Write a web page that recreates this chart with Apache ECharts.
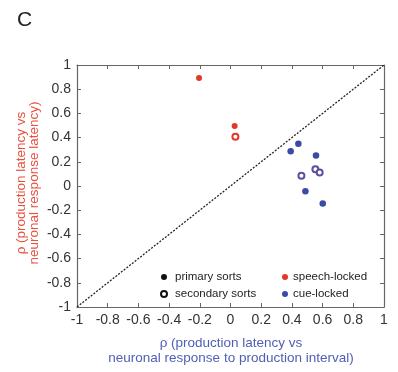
<!DOCTYPE html>
<html>
<head>
<meta charset="utf-8">
<script src="https://cdn.jsdelivr.net/npm/echarts@6/dist/echarts.min.js"></script>
<style>
  html, body { margin: 0; padding: 0; background: #fff; }
  #chart { width: 398px; height: 372px; }
</style>
</head>
<body>
<div id="chart"></div>
<script>
// Spearman correlations per neuron: x = vs response to production interval, y = vs response latency
const speechPrimary = [[-0.205, 0.893], [0.027, 0.495]];
const speechSecondary = [[0.032, 0.406]];
const cuePrimary = [[0.392, 0.288], [0.442, 0.349], [0.557, 0.252], [0.488, -0.043], [0.601, -0.145]];
const cueSecondary = [[0.462, 0.084], [0.553, 0.139], [0.581, 0.112]];
const diagonal = [[-1, -1], [1, 1]];
const axisTicks = { min: -1, max: 1, interval: 0.2 };

const RED = '#e3372b';
const BLUE = '#3a4aa6';
const BLUE_OPEN = '#5a509f';
const AXIS = '#666';
const FONT = 'Liberation Sans, Arial, sans-serif';

const chart = echarts.init(document.getElementById('chart'), null, { renderer: 'canvas' });

function boxAxis(pos, showLabels) {
  return {
    type: 'value',
    position: pos,
    min: axisTicks.min, max: axisTicks.max, interval: axisTicks.interval,
    axisLine: { show: true, onZero: false, lineStyle: { color: AXIS, width: 1.2 } },
    axisTick: { show: true, inside: true, length: 4, lineStyle: { color: AXIS } },
    axisLabel: {
      show: showLabels, color: '#333', fontSize: 14, fontFamily: FONT, margin: 6,
      formatter: v => (Math.abs(v) < 1e-9 ? '0' : String(+v.toFixed(1)))
    },
    splitLine: { show: false }
  };
}

function legendBlock(left, names, icons, textPad) {
  return {
    left: left, top: 266, orient: 'vertical', itemGap: 5,
    itemWidth: 6, itemHeight: 6,
    itemStyle: { borderWidth: 0.8 },
    textStyle: { fontSize: 11.5, color: '#222', fontFamily: FONT, padding: [0, 0, 0, textPad] },
    data: names.map((n, i) => ({ name: n, icon: icons[i] })),
    selectedMode: false
  };
}

const option = {
  animation: false,
  backgroundColor: '#fff',
  grid: { left: 77, right: 14, top: 65, bottom: 65, containLabel: false },
  xAxis: [boxAxis('bottom', true), boxAxis('top', false)],
  yAxis: [boxAxis('left', true), boxAxis('right', false)],
  legend: [
    legendBlock(155, ['primary sorts', 'secondary sorts'], ['circle', 'emptyCircle'], 3),
    legendBlock(277, ['speech-locked', 'cue-locked'], ['circle', 'circle'], 0)
  ],
  graphic: [
    {
      type: 'text', left: 17, top: 10,
      style: { text: 'C', fontSize: 21, fill: '#222', fontFamily: FONT }
    },
    {
      type: 'text', x: 28, y: 183, rotation: Math.PI / 2,
      style: {
        text: 'ρ (production latency vs\nneuronal response latency)',
        fontSize: 13.5, lineHeight: 13, fill: '#e8503f', fontFamily: FONT,
        align: 'center', verticalAlign: 'middle'
      }
    },
    {
      type: 'text', x: 231, y: 351,
      style: {
        text: 'ρ (production latency vs\nneuronal response to production interval)',
        fontSize: 13.5, lineHeight: 14.5, fill: '#4e5fb4', fontFamily: FONT,
        align: 'center', verticalAlign: 'middle'
      }
    }
  ],
  series: [
    {
      type: 'line', data: diagonal, symbol: 'none', silent: true,
      lineStyle: { color: '#222', width: 1.3, type: [2, 1.5] }, z: 1
    },
    {
      name: 'speech-locked primary', type: 'scatter', data: speechPrimary,
      symbol: 'circle', symbolSize: 6, itemStyle: { color: RED, opacity: 1 }
    },
    {
      name: 'speech-locked secondary', type: 'scatter', data: speechSecondary,
      symbol: 'emptyCircle', symbolSize: 6, itemStyle: { color: RED, borderWidth: 1, opacity: 1 }
    },
    {
      name: 'cue-locked primary', type: 'scatter', data: cuePrimary,
      symbol: 'circle', symbolSize: 6.5, itemStyle: { color: BLUE, opacity: 1 }
    },
    {
      name: 'cue-locked secondary', type: 'scatter', data: cueSecondary,
      symbol: 'emptyCircle', symbolSize: 6, itemStyle: { color: BLUE_OPEN, borderWidth: 1, opacity: 1 }
    },
    // legend keys
    { name: 'primary sorts', type: 'scatter', data: [], itemStyle: { color: '#111', opacity: 1 } },
    { name: 'secondary sorts', type: 'scatter', data: [], symbol: 'emptyCircle', itemStyle: { color: '#111', borderWidth: 0.8, opacity: 1 } },
    { name: 'speech-locked', type: 'scatter', data: [], itemStyle: { color: RED, opacity: 1 } },
    { name: 'cue-locked', type: 'scatter', data: [], itemStyle: { color: BLUE, opacity: 1 } }
  ]
};

chart.setOption(option);
</script>
</body>
</html>
